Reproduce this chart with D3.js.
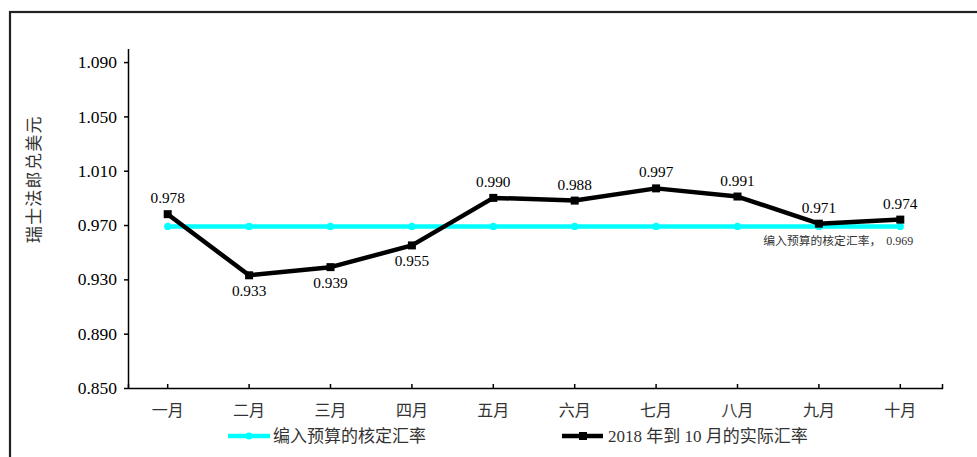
<!DOCTYPE html>
<html>
<head>
<meta charset="utf-8">
<script src="https://cdn.jsdelivr.net/npm/d3@7"></script>
<style>
  html, body { margin: 0; padding: 0; background: #fff; }
  svg { display: block; }
</style>
</head>
<body>
<svg id="chart" width="977" height="457"></svg>
<script>
const months = ["一月", "二月", "三月", "四月", "五月", "六月", "七月", "八月", "九月", "十月"];
const actualRates = [0.978, 0.933, 0.939, 0.955, 0.990, 0.988, 0.997, 0.991, 0.971, 0.974];
const budgetRates = [0.969, 0.969, 0.969, 0.969, 0.969, 0.969, 0.969, 0.969, 0.969, 0.969];
const yTickValues = [0.850, 0.890, 0.930, 0.970, 1.010, 1.050, 1.090];
const yDomain = [0.85, 1.10];
const yAxisTitle = "瑞士法郎兑美元";
const budgetName = "编入预算的核定汇率";
const actualName = "2018 年到 10 月的实际汇率";
const budgetNote = "编入预算的核定汇率，";
const budgetValue = 0.969;

const serif = "'Liberation Serif', 'Times New Roman', serif";
const cjk = "'Liberation Serif', 'Noto Sans CJK SC', sans-serif";

const svg = d3.select("#chart");

// outer frame
svg.append("rect")
  .attr("x", 10).attr("y", 12)
  .attr("width", 1000).attr("height", 500)
  .attr("fill", "none").attr("stroke", "#222").attr("stroke-width", 2.2);

const x = d3.scaleBand().domain(months).range([128, 942]).padding(0);
const y = d3.scaleLinear().domain(yDomain).range([388, 48.5]);
const cx = d => x(d) + x.bandwidth() / 2 - 1;

// Y axis
const yAxis = svg.append("g")
  .attr("transform", "translate(128,0)")
  .call(d3.axisLeft(y).tickValues(yTickValues).tickFormat(d3.format(".3f")).tickSize(4).tickSizeOuter(0).tickPadding(7));
yAxis.select(".domain").attr("stroke", "#000").attr("stroke-width", 1.5);
yAxis.selectAll(".tick line").attr("stroke", "#000").attr("stroke-width", 1.5);
yAxis.selectAll("text").attr("font-family", serif).attr("font-size", 17.5).attr("fill", "#000");

// X axis
const xAxis = svg.append("g")
  .attr("transform", "translate(0,388)")
  .call(d3.axisBottom(x).tickSizeInner(-4).tickSizeOuter(-4).tickPadding(0));
xAxis.selectAll(".tick").attr("transform", d => `translate(${cx(d)},0)`);
xAxis.select(".domain").attr("stroke", "#000").attr("stroke-width", 1.5);
xAxis.selectAll(".tick line").attr("stroke", "#000").attr("stroke-width", 1.5);
xAxis.selectAll("text")
  .attr("y", 28)
  .attr("dy", null)
  .attr("font-family", cjk).attr("font-size", 16).attr("fill", "#333");

// Y axis title
svg.append("text")
  .attr("transform", `translate(40,${(48.5 + 388) / 2 - 39}) rotate(-90)`)
  .attr("text-anchor", "middle")
  .attr("font-family", cjk).attr("font-size", 17).attr("fill", "#333")
  .attr("letter-spacing", 1.3)
  .text(yAxisTitle);

// budget line
const line = d3.line().x((d, i) => cx(months[i])).y(d => y(d));
svg.append("path").datum(budgetRates)
  .attr("d", line).attr("fill", "none")
  .attr("stroke", "#00FFFF").attr("stroke-width", 4.5);
svg.append("g").selectAll("circle").data(budgetRates).join("circle")
  .attr("cx", (d, i) => cx(months[i])).attr("cy", d => y(d))
  .attr("r", 3.6).attr("fill", "#00FFFF");

// actual line
svg.append("path").datum(actualRates)
  .attr("d", line).attr("fill", "none")
  .attr("stroke", "#000").attr("stroke-width", 4.5).attr("stroke-linejoin", "round");
svg.append("g").selectAll("rect").data(actualRates).join("rect")
  .attr("x", (d, i) => cx(months[i]) - 4).attr("y", d => y(d) - 4)
  .attr("width", 8).attr("height", 8).attr("fill", "#000");

// data labels
svg.append("g").selectAll("text").data(actualRates).join("text")
  .attr("x", (d, i) => cx(months[i]))
  .attr("y", (d, i) => d < budgetRates[i] ? y(d) + 21 : y(d) - 11)
  .attr("text-anchor", "middle")
  .attr("font-family", serif).attr("font-size", 15.3).attr("fill", "#000")
  .text(d => d3.format(".3f")(d));

// budget note
const lastX = cx(months[months.length - 1]);
const note = svg.append("text")
  .attr("x", lastX + 13).attr("y", y(budgetValue) + 19)
  .attr("text-anchor", "end")
  .attr("fill", "#333");
note.append("tspan").attr("font-family", cjk).attr("font-size", 11.8).text(budgetNote);
note.append("tspan").attr("font-family", serif).attr("font-size", 12).attr("dx", 5).text(d3.format(".3f")(budgetValue));

// legend
const legendY = 436;
const lg1 = svg.append("g");
lg1.append("line").attr("x1", 228).attr("x2", 270).attr("y1", legendY).attr("y2", legendY)
  .attr("stroke", "#00FFFF").attr("stroke-width", 4.5);
lg1.append("circle").attr("cx", 249).attr("cy", legendY).attr("r", 3.6).attr("fill", "#00FFFF");
lg1.append("text").attr("x", 273).attr("y", legendY + 6)
  .attr("font-family", cjk).attr("font-size", 17).attr("fill", "#333").text(budgetName);

const lg2 = svg.append("g");
lg2.append("line").attr("x1", 562).attr("x2", 603).attr("y1", legendY).attr("y2", legendY)
  .attr("stroke", "#000").attr("stroke-width", 4.5);
lg2.append("rect").attr("x", 579).attr("y", legendY - 4).attr("width", 8).attr("height", 8).attr("fill", "#000");
lg2.append("text").attr("x", 608).attr("y", legendY + 6)
  .attr("font-family", cjk).attr("font-size", 17).attr("fill", "#333").text(actualName);
</script>
</body>
</html>
